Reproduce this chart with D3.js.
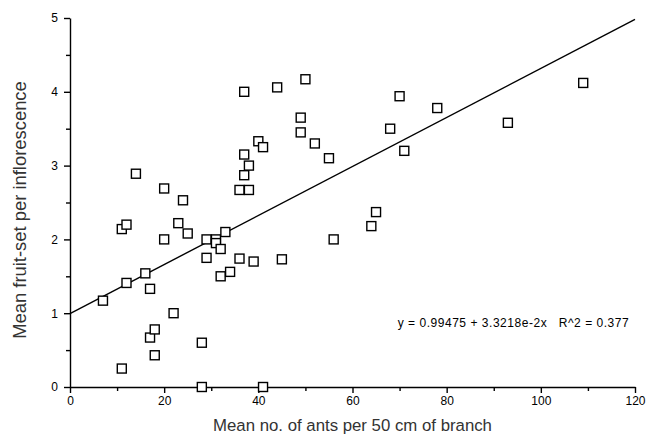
<!DOCTYPE html>
<html>
<head>
<meta charset="utf-8">
<script src="https://cdn.jsdelivr.net/npm/d3@7"></script>
<style>
	body { margin: 0; background: #fff; }
	text { font-family: "Liberation Sans", Arial, Helvetica, sans-serif; }
	.tick text { font-size: 12px; fill: #000; }
	.labels { font-size: 16.8px; fill: #333; }
</style>
</head>
<body>
<svg id="scatter"></svg>
<script>
// mean no. of ants per 50 cm of branch
let antCounts = [
	7, 11, 11, 12, 12, 14, 16, 17, 17, 18, 18,
	20, 20, 22, 23, 24, 25, 28, 28, 29, 29, 31, 31,
	32, 32, 33, 34, 36, 36, 37, 37, 37, 38, 38, 39,
	40, 41, 41, 44, 45, 49, 49, 50, 52, 55, 56, 64,
	65, 68, 70, 71, 78, 93, 109
];
// mean fruit-set per inflorescence
let fruitSet = [
	1.17, 0.25, 2.14, 2.20, 1.41, 2.89, 1.54, 1.33, 0.67, 0.78, 0.43,
	2.69, 2.00, 1.00, 2.22, 2.53, 2.08, 0.60, 0.00, 2.00, 1.75, 2.00, 1.95,
	1.87, 1.50, 2.10, 1.56, 2.67, 1.74, 4.00, 3.15, 2.87, 3.00, 2.67, 1.70,
	3.33, 3.25, 0.00, 4.06, 1.73, 3.65, 3.45, 4.17, 3.30, 3.10, 2.00, 2.18,
	2.37, 3.50, 3.94, 3.20, 3.78, 3.58, 4.12
];

let fitIntercept = 0.99475;
let fitSlope = 3.3218e-2;
let fitLabel = 'y = 0.99475 + 3.3218e-2x   R^2 = 0.377';

let xTicks = [0, 20, 40, 60, 80, 100, 120];
let xMinorTicks = [10, 30, 50, 70, 90, 110];
let yTicks = [0, 1, 2, 3, 4, 5];
let yMinorTicks = [0.5, 1.5, 2.5, 3.5, 4.5];

let width = 647, height = 435;
let leftMargin = 70, rightMargin = 12, topMargin = 18, bottomMargin = 48;

function makeScatter() {
	let svg = d3.select('#scatter')
		.attr('width', width)
		.attr('height', height);

	let xScale = d3.scaleLinear()
		.domain([0, 120])
		.range([leftMargin, width - rightMargin]);

	let yScale = d3.scaleLinear()
		.domain([0, 5])
		.range([height - bottomMargin, topMargin]);

	// minor ticks first, then the labelled ones on top
	svg.append('g')
		.attr('transform', `translate(0, ${height - bottomMargin})`)
		.call(d3.axisBottom(xScale).tickValues(xMinorTicks).tickSize(4).tickFormat(''))
		.call(g => g.select('.domain').remove());

	svg.append('g')
		.attr('transform', `translate(${leftMargin}, 0)`)
		.call(d3.axisLeft(yScale).tickValues(yMinorTicks).tickSize(4).tickFormat(''))
		.call(g => g.select('.domain').remove());

	svg.append('g')
		.attr('class', 'axis-bottom')
		.attr('transform', `translate(0, ${height - bottomMargin})`)
		.call(d3.axisBottom(xScale).tickValues(xTicks).tickFormat(d3.format('d'))
			.tickSize(6).tickSizeOuter(0).tickPadding(3));

	svg.append('g')
		.attr('class', 'axis-left')
		.attr('transform', `translate(${leftMargin}, 0)`)
		.call(d3.axisLeft(yScale).tickValues(yTicks).tickFormat(d3.format('d'))
			.tickSize(6).tickSizeOuter(0).tickPadding(6));

	svg.selectAll('.domain, .tick line')
		.attr('stroke', '#000')
		.attr('stroke-width', 1.4);

	// regression line
	svg.append('line')
		.attr('x1', xScale(0))
		.attr('y1', yScale(fitIntercept))
		.attr('x2', xScale(120))
		.attr('y2', yScale(fitIntercept + fitSlope * 120))
		.attr('stroke', '#000')
		.attr('stroke-width', 1.4);

	// points
	let size = 9;
	svg.append('g')
		.selectAll('rect')
		.data(d3.range(antCounts.length))
		.enter()
		.append('rect')
		.attr('x', i => xScale(antCounts[i]) - size / 2)
		.attr('y', i => yScale(fruitSet[i]) - size / 2)
		.attr('width', size)
		.attr('height', size)
		.attr('fill', '#fff')
		.attr('stroke', '#000')
		.attr('stroke-width', 1.4);

	svg.append('text')
		.attr('x', xScale(69.6))
		.attr('y', yScale(0.81))
		.attr('textLength', 231)
		.style('font-size', '12px')
		.style('white-space', 'pre')
		.text(fitLabel);

	// LABELS
	svg.append('text')
		.attr('class', 'labels')
		.attr('x', xScale(60))
		.attr('y', 431)
		.style('text-anchor', 'middle')
		.text('Mean no. of ants per 50 cm of branch');

	svg.append('text')
		.attr('class', 'labels')
		.attr('transform', 'rotate(-90)')
		.attr('x', -210)
		.attr('y', 26)
		.style('font-size', '18.4px')
		.style('text-anchor', 'middle')
		.text('Mean fruit-set per inflorescence');
}

makeScatter();
</script>
</body>
</html>
